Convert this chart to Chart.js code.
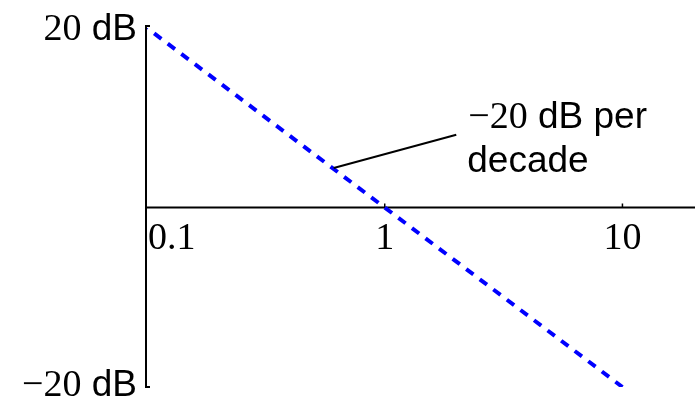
<!DOCTYPE html>
<html>
<head>
<meta charset="utf-8">
<script src="https://cdn.jsdelivr.net/npm/chart.js@4/dist/chart.umd.min.js"></script>
<style>
  html, body { margin: 0; padding: 0; background: #fff; }
  canvas { display: block; }
</style>
</head>
<body>
<canvas id="bode" width="695" height="400"></canvas>
<script>
// asymptote of a single pole: -20 dB per decade through 0 dB at 1
const freqs = [0.1, 10];
const gainDb = [20, -20];

const xTicks = [0.1, 1, 10];
const xTickLabels = ["0.1", "1", "10"];
const yTicks = [20, -20];
const yTickLabels = ["20", "\u221220"];
const yUnit = "dB";

// callout: pointer from the line to the note
const noteFrom = [0.61, 4.4];
const noteTo = [2.0, 8.1];
const noteNum = "\u221220";
const noteRest = " dB per";
const noteLine2 = "decade";

const SERIF = "38px 'Liberation Serif', 'Times New Roman', serif";
const SANS = "37px 'Liberation Sans', Arial, Helvetica, sans-serif";

// draws serif number followed by sans text, right or left anchored
function mixedText(ctx, num, rest, x, y, align) {
  ctx.font = SERIF;
  const w1 = ctx.measureText(num).width;
  ctx.font = SANS;
  const w2 = ctx.measureText(rest).width;
  const x0 = align === "right" ? x - w1 - w2 : x;
  ctx.textAlign = "left";
  ctx.font = SERIF;
  ctx.fillText(num, x0, y);
  ctx.font = SANS;
  ctx.fillText(rest, x0 + w1, y);
}

const axesPlugin = {
  id: "bodeAxes",
  beforeDatasetsDraw(chart) {
    const { ctx, scales } = chart;
    const xs = scales.x, ys = scales.y;
    const x0 = xs.getPixelForValue(0.1) - 1;
    const y0 = ys.getPixelForValue(0);
    const yTop = ys.getPixelForValue(yTicks[0]) - 2;
    const yBot = ys.getPixelForValue(yTicks[1]);
    ctx.save();
    ctx.strokeStyle = "#000";
    ctx.lineWidth = 2;
    // vertical axis with small hooks at the ends
    ctx.beginPath();
    ctx.moveTo(x0 + 4, yTop);
    ctx.lineTo(x0, yTop);
    ctx.lineTo(x0, yBot);
    ctx.lineTo(x0 + 4, yBot);
    ctx.stroke();
    // horizontal axis at 0 dB
    ctx.beginPath();
    ctx.moveTo(x0 + 1, y0);
    ctx.lineTo(chart.width, y0);
    ctx.stroke();
    // tiny decade ticks
    ctx.lineWidth = 1.5;
    xTicks.slice(1).forEach((v) => {
      const px = xs.getPixelForValue(v);
      ctx.beginPath();
      ctx.moveTo(px, y0);
      ctx.lineTo(px, y0 - 4);
      ctx.stroke();
    });
    ctx.restore();
  },
  afterDraw(chart) {
    const { ctx, scales } = chart;
    const xs = scales.x, ys = scales.y;
    const y0 = ys.getPixelForValue(0);
    ctx.save();
    ctx.fillStyle = "#000";
    ctx.textBaseline = "alphabetic";

    // x tick labels below the 0 dB line
    ctx.font = SERIF;
    xTicks.forEach((v, i) => {
      const px = xs.getPixelForValue(v);
      ctx.textAlign = i === 0 ? "left" : "center";
      ctx.fillText(xTickLabels[i], i === 0 ? px + 1 : px, y0 + 41);
    });

    // y tick labels left of the axis
    yTicks.forEach((v, i) => {
      const py = ys.getPixelForValue(v);
      mixedText(ctx, yTickLabels[i], " " + yUnit, 137, py + (i === 0 ? 12 : 9), "right");
    });

    // callout line and text
    const fx = xs.getPixelForValue(noteFrom[0]);
    const fy = ys.getPixelForValue(noteFrom[1]);
    const tx = xs.getPixelForValue(noteTo[0]);
    const ty = ys.getPixelForValue(noteTo[1]);
    ctx.strokeStyle = "#000";
    ctx.lineWidth = 2;
    ctx.beginPath();
    ctx.moveTo(fx, fy);
    ctx.lineTo(tx, ty);
    ctx.stroke();
    mixedText(ctx, noteNum, noteRest, tx + 12, ty - 7, "left");
    ctx.font = SANS;
    ctx.textAlign = "left";
    ctx.fillText(noteLine2, tx + 11, ty + 37);
    ctx.restore();
  }
};

new Chart(document.getElementById("bode"), {
  type: "line",
  data: {
    datasets: [{
      data: freqs.map((f, i) => ({ x: f, y: gainDb[i] })),
      borderColor: "#0000ff",
      borderWidth: 4,
      borderDash: [9, 8],
      borderDashOffset: 8,
      borderCapStyle: "butt",
      pointRadius: 0,
      fill: false,
      tension: 0,
    }],
  },
  options: {
    responsive: false,
    animation: false,
    layout: { padding: { left: 147, right: 1, top: 28, bottom: 13 } },
    plugins: { legend: { display: false }, tooltip: { enabled: false } },
    scales: {
      x: { type: "logarithmic", min: 0.1, max: 20, display: false },
      y: { type: "linear", min: -20, max: 20, display: false },
    },
  },
  plugins: [axesPlugin],
});
</script>
</body>
</html>
